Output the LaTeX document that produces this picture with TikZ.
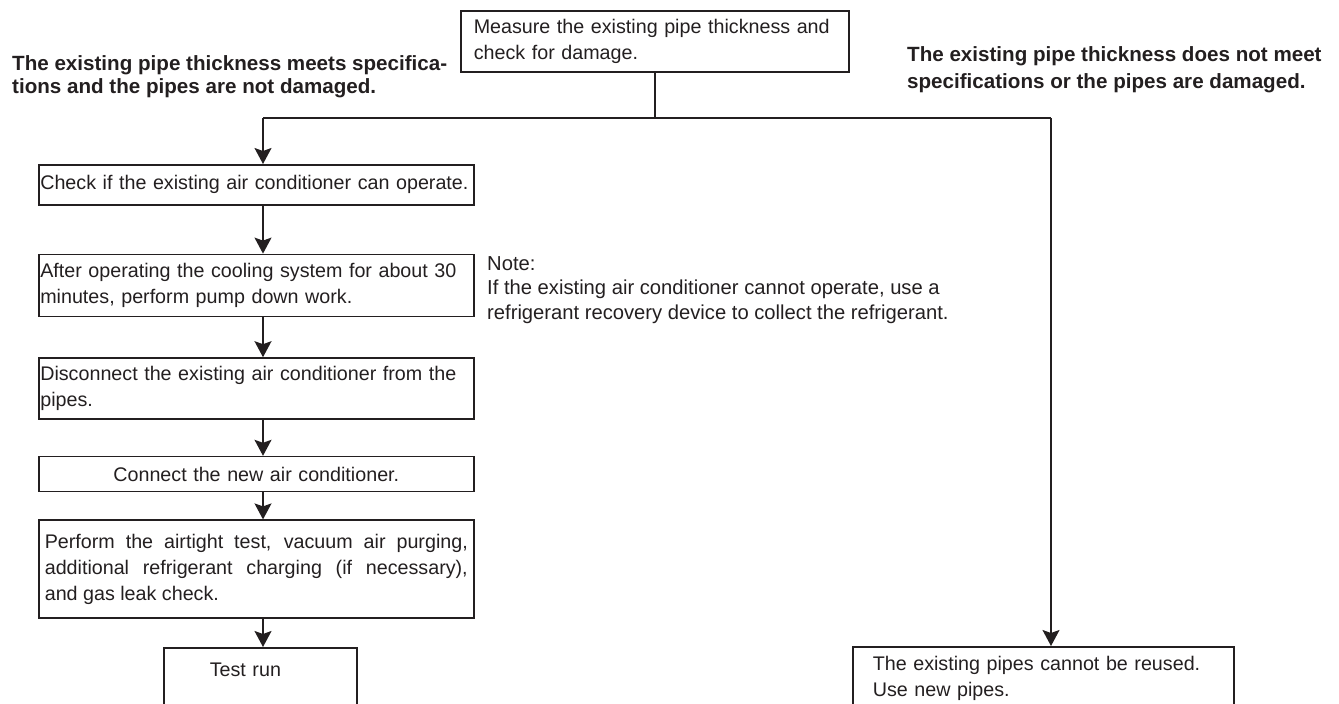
\documentclass[tikz,border=0pt]{standalone}
\usepackage{fontspec}
\setmainfont{Liberation Sans}
\usetikzlibrary{positioning,arrows.meta}
\definecolor{ink}{HTML}{231F20}
\hyphenpenalty=10000
\tikzset{stepbox/.style={draw=ink,line width=1.6pt,text=ink,inner ysep=0pt,inner xsep=1.5pt,text width=432pt,align=left},
         note text/.style={text=ink,inner sep=0pt,align=left},
         fork/.style={draw=ink,line width=1.6pt},
         arr/.style={draw=ink,line width=1.6pt,-{Stealth[length=16pt,width=17pt,inset=3pt]}},
            }

\begin{document}
\begin{tikzpicture}[x=1pt,y=-1pt,font=\fontsize{19.7}{26}\selectfont]
    \useasboundingbox (0,0) rectangle (1339,704);
    \clip (0,0) rectangle (1339,704);

    \node[stepbox,text width=362pt,inner xsep=13pt,minimum height=61pt,anchor=north west] (meas) at (460,10) {Measure the existing pipe thickness and\\check for damage.};
    \node[stepbox,minimum height=40pt,anchor=north west] (chk) at (38,164) {Check if the existing air conditioner can operate.};
    \node[stepbox,minimum height=62pt] (pump) [below = 48pt of chk] {After operating the cooling system for about 30\\minutes, perform pump down work.};
    \node[stepbox,minimum height=61pt] (disc) [below = 40pt of pump] {Disconnect the existing air conditioner from the\\pipes.};
    \node[stepbox,minimum height=35pt,align=center] (conn) [below = 36pt of disc] {Connect the new air conditioner.};
    \node[stepbox,minimum height=98pt,text width=423pt,inner xsep=6pt,align=justify] (leak) [below = 27pt of conn] {Perform the airtight test, vacuum air purging,\linebreak additional refrigerant charging (if necessary),\linebreak and gas leak check.};
    \node[stepbox,text width=101pt,inner xsep=46pt,inner ysep=15pt,text depth=60pt,anchor=north west] (run) at (163,647) {Test run};
    \node[stepbox,text width=341pt,inner xsep=20pt,inner ysep=9pt,text depth=60pt,anchor=north west] (reuse) at (852,646) {The existing pipes cannot be reused.\\Use new pipes.};

    \node[note text,font=\fontsize{20.6}{23.5}\selectfont\bfseries,anchor=north west] (yes) at (12,55) {The existing pipe thickness meets specifica-\\tions and the pipes are not damaged.};
    \node[note text,font=\fontsize{20.6}{27}\selectfont\bfseries,anchor=north west] (no) at (907,46) {The existing pipe thickness does not meet\\specifications or the pipes are damaged.};
    \node[note text,font=\fontsize{20.2}{24.5}\selectfont,anchor=north west] (note) at (487,256) {Note:\\If the existing air conditioner cannot operate, use a\\refrigerant recovery device to collect the refrigerant.};

    \coordinate (lft) at (263,118);
    \coordinate (rgt) at (1051,118);
    \draw[fork] (meas.south) -- (meas.south |- lft);
    \draw[fork] (lft) -- (rgt);

    \path[every edge/.style=arr]
    (lft) edge (lft |- chk.north)
    (chk.south -| lft) edge (pump.north -| lft)
    (pump.south -| lft) edge (disc.north -| lft)
    (disc.south -| lft) edge (conn.north -| lft)
    (conn.south -| lft) edge (leak.north -| lft)
    (leak.south -| lft) edge (run.north -| lft)
    (rgt) edge (rgt |- reuse.north);
\end{tikzpicture}
\end{document}
